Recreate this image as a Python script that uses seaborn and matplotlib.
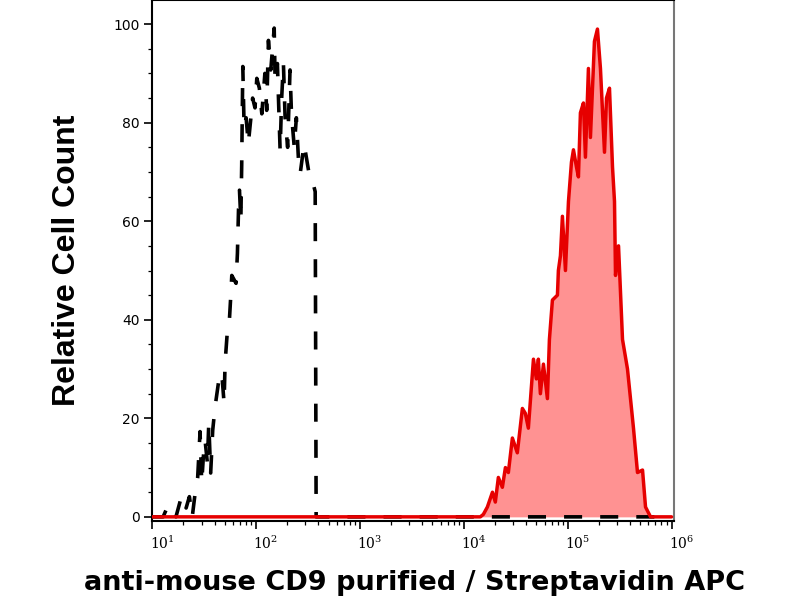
import matplotlib
matplotlib.use("Agg")
import matplotlib.pyplot as plt
import matplotlib.ticker as mticker
from matplotlib.transforms import ScaledTranslation
import seaborn as sns
import pandas as pd

# ---- data (intensity, relative count) ----
black_x = [10, 12.8, 13.6, 14.7, 16.0, 17.0, 19.3, 21.3, 22.9, 24.4, 25.9,
           27.5, 29.0, 30.1, 31.2, 32.4, 34.1, 35.2, 36.7, 38.4, 40.5,
           43.6, 46.9, 49.4, 50.5, 53.2, 55.6, 57.7, 58.6, 64.4, 66.4,
           68.0, 69.5, 71.6, 73.0, 74.8, 77, 80.5, 84.5, 89, 93,
           98, 102, 108, 114, 122, 127, 132, 139, 150, 153,
           161, 166, 171, 177, 184, 191, 202, 213, 220, 234,
           245, 257, 267, 291, 309, 333, 362, 372, 380, 1.0e6]
black_y = [0, 0, 1.3, 0, 1.1, 0, 4.3, 1.8, 4.1, 0, 4.5,
           7.9, 17.3, 6.9, 12.2, 15.6, 11, 19, 8.9, 17.6, 22.4,
           27.2, 29.2, 23.1, 31.2, 37.9, 40, 46, 49, 47.4, 53.5,
           62.3, 66.3, 60.2, 71.4, 91.4, 79, 81, 75.7, 80.5, 85,
           83, 89, 87, 81.8, 90, 82.5, 96.7, 90.7, 99.2, 88.6,
           92, 83, 74.4, 85, 92, 81, 75, 90.7, 81.8, 75,
           81, 72.4, 69.7, 75.7, 72.4, 68.3, 67, 66, 0, 0]

red_x = [10, 14450, 15450, 16900, 18900, 20150, 21550, 23550, 25200, 26900,
         29400, 32800, 36700, 39200, 41900, 46900, 50000, 52300, 54700, 58500,
         63900, 66800, 71400, 79800, 81500, 85300, 89100, 95300, 101900, 108900,
         113800, 121700, 127100, 132800, 142000, 148400, 158600, 165800, 181200, 193700,
         207000, 226400, 236600, 252900, 270400, 282600, 289000, 309000, 337500, 376900,
         430400, 470400, 526000, 562000, 628000, 1.0e6]
red_y = [0, 0, 0.5, 2, 5, 3, 8, 6, 10, 9,
         16, 13, 22, 21, 18, 32, 28, 32, 25, 31,
         24, 36, 44, 45, 50, 53, 61, 50, 64, 72,
         74.5, 71, 69, 82, 84, 73, 91, 77, 96.5, 99,
         91, 74, 85, 87, 71, 64, 49, 55, 36, 30,
         18, 9, 9.5, 2, 0, 0]

y_ticks = [0, 20, 40, 60, 80, 100]
x_label = "anti-mouse CD9 purified / Streptavidin APC"
y_label = "Relative Cell Count"

black_df = pd.DataFrame({"x": black_x, "y": black_y})
red_df = pd.DataFrame({"x": red_x, "y": red_y})

sns.set_theme(style="ticks")
plt.rcParams["font.family"] = ["DejaVu Sans"]
plt.rcParams["mathtext.fontset"] = "dejavuserif"
plt.rcParams["text.color"] = "black"
plt.rcParams["axes.labelcolor"] = "black"
plt.rcParams["xtick.color"] = "black"
plt.rcParams["ytick.color"] = "black"

fig = plt.figure(figsize=(8, 6), dpi=100)
ax = fig.add_axes([0.19, 0.132, 0.652, 0.868])

ax.fill_between(red_df["x"], red_df["y"], color="#ff9292", linewidth=0, zorder=1)
sns.lineplot(data=black_df, x="x", y="y", ax=ax, color="black", linewidth=2.6,
             linestyle=(0, (5, 5)), estimator=None, sort=False, zorder=2)
sns.lineplot(data=red_df, x="x", y="y", ax=ax, color="#e60000", linewidth=2.5,
             estimator=None, sort=False, zorder=3)

ax.set_xscale("log")
ax.set_xlim(10, 10 ** 6.02)
ax.set_ylim(-0.8, 104.9)
ax.set_yticks(y_ticks)
ax.yaxis.set_minor_locator(mticker.MultipleLocator(5))
ax.xaxis.set_major_locator(mticker.LogLocator(base=10, numticks=10))
ax.xaxis.set_minor_locator(mticker.LogLocator(base=10, subs=range(2, 10), numticks=20))

ax.tick_params(axis="both", which="major", direction="out", length=6, width=1.2)
ax.tick_params(axis="both", which="minor", direction="out", length=3, width=0.9)
ax.tick_params(axis="y", labelsize=10, pad=3)
ax.tick_params(axis="x", labelsize=10, pad=4)

for lab in ax.get_xticklabels():
    lab.set_family("DejaVu Serif")
    lab.set_transform(lab.get_transform() + ScaledTranslation(0.1, 0, fig.dpi_scale_trans))

for side in ["left", "bottom", "top"]:
    ax.spines[side].set_color("black")
    ax.spines[side].set_linewidth(1.5)
ax.spines["right"].set_color("#777777")
ax.spines["right"].set_linewidth(1.5)

ax.set_xlabel(x_label, fontsize=19.5, fontweight="bold", family="DejaVu Sans")
ax.set_ylabel(y_label, fontsize=23, fontweight="bold", family="Liberation Sans")
ax.xaxis.set_label_coords(0.503, -0.094)
ax.yaxis.set_label_coords(-0.134, 0.5)

fig.savefig("out.png", dpi=100)
